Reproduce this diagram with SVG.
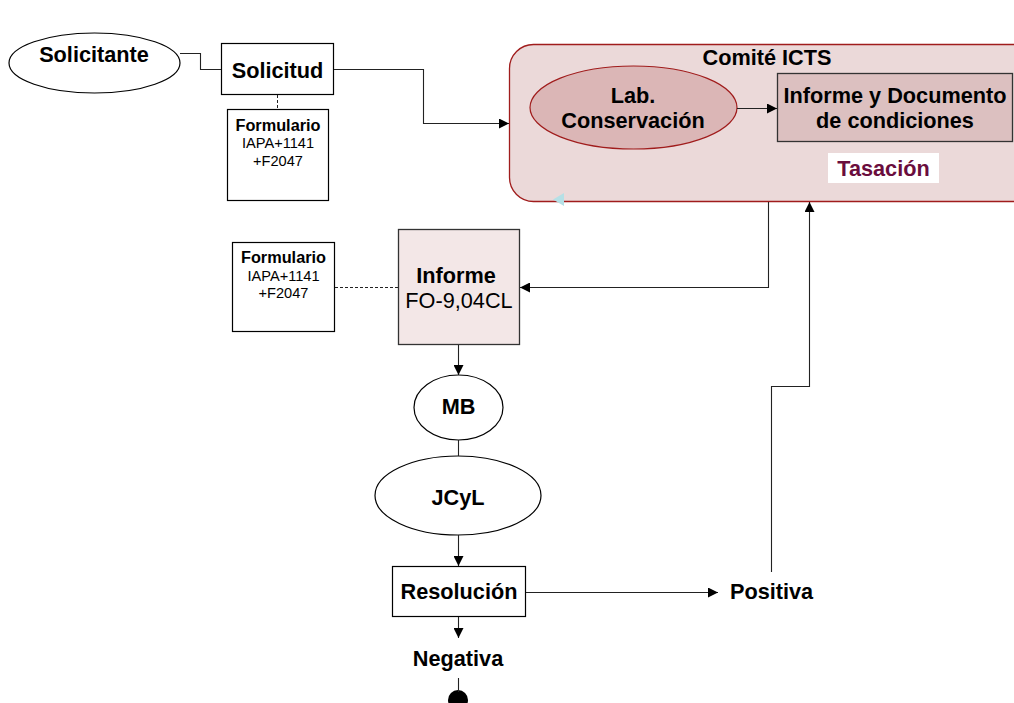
<svg xmlns="http://www.w3.org/2000/svg" width="1014" height="703" viewBox="0 0 1014 703">
<style>
text{font-family:"Liberation Sans",Arial,sans-serif;fill:#000}
.b{font-weight:bold;font-size:21.7px}
.f{font-weight:bold;font-size:16.3px}
.s{font-size:14.6px}
.r{font-size:21.7px}
.plain{fill:#fff;stroke:#000;stroke-width:1.2}
.ln{fill:none;stroke:#222;stroke-width:1.1}
.dash{fill:none;stroke:#222;stroke-width:1;stroke-dasharray:3,2}
</style>
<defs>
<marker id="ah" viewBox="0 0 10 10" refX="10" refY="5" markerWidth="10" markerHeight="10" markerUnits="userSpaceOnUse" orient="auto">
<path d="M0,0 L10,5 L0,10 z" fill="#000"/>
</marker>
</defs>
<g id="comite">
<rect x="509.5" y="44.5" width="530" height="157" rx="24" fill="#ebd9d9" stroke="#a01c1c" stroke-width="1.3"/>
<text class="b" x="767" y="65" text-anchor="middle">Comité ICTS</text>
<polygon points="553,199.5 564,193 564,206" fill="#b5e0e6"/>
</g>
<g id="lab">
<ellipse cx="633.5" cy="107.5" rx="103.5" ry="41.5" fill="#dbb6b6" stroke="#a01c1c" stroke-width="1.2"/>
<text class="b" x="633" y="103" text-anchor="middle">Lab.</text>
<text class="b" x="633" y="128" text-anchor="middle">Conservación</text>
</g>
<g id="informe-doc">
<rect x="777.5" y="73.5" width="235" height="68" fill="#dcc0c0" stroke="#333" stroke-width="1.3"/>
<text class="b" x="895" y="103" text-anchor="middle">Informe y Documento</text>
<text class="b" x="895" y="128" text-anchor="middle">de condiciones</text>
</g>
<g id="tasacion">
<rect x="828" y="153" width="111" height="30" fill="#fff"/>
<text class="b" x="883.5" y="176" text-anchor="middle" style="fill:#6a0d3d">Tasación</text>
</g>
<g id="solicitante">
<ellipse cx="94.5" cy="63" rx="85.5" ry="30" class="plain"/>
<text class="b" x="94" y="62" text-anchor="middle">Solicitante</text>
</g>
<g id="solicitud">
<rect x="221.5" y="43.5" width="112" height="51" class="plain"/>
<text class="b" x="277.5" y="78" text-anchor="middle">Solicitud</text>
</g>
<g id="formulario1">
<rect x="227.5" y="109.5" width="101" height="91" class="plain"/>
<text class="f" x="278" y="131" text-anchor="middle">Formulario</text>
<text class="s" x="278" y="148" text-anchor="middle">IAPA+1141</text>
<text class="s" x="278" y="166" text-anchor="middle">+F2047</text>
</g>
<g id="formulario2">
<rect x="232.5" y="242.5" width="102" height="89" class="plain"/>
<text class="f" x="283.5" y="263" text-anchor="middle">Formulario</text>
<text class="s" x="283.5" y="281" text-anchor="middle">IAPA+1141</text>
<text class="s" x="283.5" y="298" text-anchor="middle">+F2047</text>
</g>
<g id="informe">
<rect x="398.5" y="229.5" width="121" height="115" fill="#f3e7e7" stroke="#333" stroke-width="1.3"/>
<text class="b" x="456" y="283" text-anchor="middle">Informe</text>
<text class="r" x="459" y="308" text-anchor="middle">FO-9,04CL</text>
</g>
<g id="mb">
<ellipse cx="458.5" cy="407.5" rx="44.5" ry="32.5" class="plain"/>
<text class="b" x="458.5" y="414" text-anchor="middle">MB</text>
</g>
<g id="jcyl">
<ellipse cx="458" cy="495.5" rx="83" ry="39.5" class="plain"/>
<text class="b" x="458" y="505" text-anchor="middle">JCyL</text>
</g>
<g id="resolucion">
<rect x="392.5" y="566.5" width="133" height="50" class="plain"/>
<text class="b" x="459" y="599" text-anchor="middle">Resolución</text>
</g>
<g id="positiva">
<text class="b" x="730" y="599">Positiva</text>
</g>
<g id="negativa">
<text class="b" x="458" y="666" text-anchor="middle">Negativa</text>
<circle cx="458" cy="700" r="10" fill="#000"/>
</g>
<g id="connectors">
<polyline class="ln" points="180,53.5 200.5,53.5 200.5,69.5 221,69.5"/>
<line class="dash" x1="277.5" y1="95" x2="277.5" y2="109"/>
<polyline class="ln" points="334,69.5 423.5,69.5 423.5,123.5 509,123.5" marker-end="url(#ah)"/>
<line class="ln" x1="737" y1="108.5" x2="777" y2="108.5" marker-end="url(#ah)"/>
<polyline class="ln" points="768.5,202 768.5,287.5 520,287.5" marker-end="url(#ah)"/>
<line class="dash" x1="335" y1="287.5" x2="398" y2="287.5"/>
<line class="ln" x1="458.5" y1="345" x2="458.5" y2="375" marker-end="url(#ah)"/>
<line class="ln" x1="458.5" y1="440" x2="458.5" y2="456"/>
<line class="ln" x1="458.5" y1="535" x2="458.5" y2="566" marker-end="url(#ah)"/>
<line class="ln" x1="526" y1="592.5" x2="718" y2="592.5" marker-end="url(#ah)"/>
<polyline class="ln" points="771.5,572 771.5,386.5 809.5,386.5 809.5,202" marker-end="url(#ah)"/>
<line class="ln" x1="458.5" y1="617" x2="458.5" y2="638" marker-end="url(#ah)"/>
<line class="ln" x1="458.5" y1="678" x2="458.5" y2="692"/>
</g>
</svg>
